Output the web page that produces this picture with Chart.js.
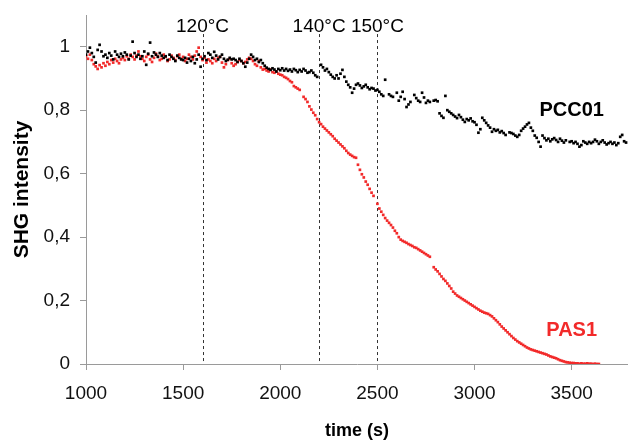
<!DOCTYPE html>
<html>
<head>
<meta charset="utf-8">
<script src="https://cdn.jsdelivr.net/npm/chart.js@4/dist/chart.umd.min.js"></script>
<style>
  html, body { margin: 0; padding: 0; background: #fff; }
  canvas { display: block; }
</style>
</head>
<body>
<canvas id="shg" width="628" height="442"></canvas>
<script>
// sampling of the measurement (s)
const sampleStart = 1000;
const sampleStep = 10;

// PCC01 (black), one value every 10 s from 1000 s
const pcc01 = [
  0.975, 0.985, 0.997, 0.980, 0.968, 0.950, 0.990, 1.006, 0.985, 0.970,
  0.975, 0.965, 0.980, 0.972, 0.960, 0.985, 0.975, 0.968, 0.978, 0.970,
  0.982, 0.975, 0.960, 0.972, 1.016, 0.980, 0.968, 0.975, 0.962, 0.970,
  0.985, 0.943, 0.978, 1.013, 0.970, 0.982, 0.975, 0.968, 0.980, 0.972,
  0.965, 0.970, 0.958, 0.975, 0.968, 0.962, 0.955, 0.972, 0.965, 0.960,
  0.958, 0.965, 0.950, 0.962, 0.955, 0.968, 0.948, 0.960, 0.975, 0.937,
  0.962, 0.970, 0.958, 0.980, 0.975, 0.965, 0.984, 0.972, 0.960, 0.968,
  0.975, 0.962, 0.955, 0.959, 0.965, 0.960, 0.962, 0.958, 0.952, 0.962,
  0.955, 0.948, 0.937, 0.950, 0.962, 0.975, 0.968, 0.958, 0.962, 0.952,
  0.958, 0.948, 0.940, 0.934, 0.930, 0.927, 0.932, 0.928, 0.922, 0.930,
  0.926, 0.932, 0.925, 0.930, 0.924, 0.928, 0.922, 0.930, 0.926, 0.920,
  0.927, 0.922, 0.930, 0.925, 0.918, 0.920, 0.925, 0.918, 0.910, 0.905,
  null,  0.943, 0.935, 0.925, 0.930, 0.920, 0.912, 0.905, 0.900, 0.910,
  0.900, 0.915, 0.927, 0.905, 0.890, 0.880, 0.872, 0.855, 0.868, 0.880,
  0.884, 0.878, 0.870, 0.875, 0.880, 0.872, 0.866, 0.870, 0.868, 0.862,
  0.864, 0.858, 0.850, 0.845, 0.896, null,  0.850, 0.845, 0.842, null,
  0.855, 0.830, 0.842, 0.858, 0.835, 0.810, 0.818, 0.826, null,  0.848,
  0.838, 0.830, 0.826, 0.855, 0.840, 0.823, 0.830, 0.826, null,  0.830,
  0.832, 0.828, 0.790, 0.782, 0.776, 0.845, 0.800, 0.795, 0.790, 0.785,
  0.780, 0.775, 0.785, 0.778, 0.770, 0.763, 0.772, 0.768, 0.774, 0.765,
  0.762, 0.754, 0.729, 0.740, 0.776, 0.768, 0.760, 0.752, 0.745, 0.732,
  0.740, 0.735, 0.738, 0.730, 0.734, 0.728, 0.722, null,  0.730, 0.728,
  0.725, 0.720, 0.716, 0.722, 0.735, 0.742, 0.748, 0.755, 0.760, 0.745,
  0.735, 0.720, 0.713, 0.700, 0.685, 0.720, 0.712, 0.705, 0.710, 0.702,
  0.708, 0.712, 0.706, 0.700, 0.710, 0.704, 0.698, 0.705, null,  0.700,
  0.702, 0.696, 0.700, 0.694, 0.685, 0.690, 0.702, 0.698, 0.694, 0.700,
  0.696, 0.700, 0.707, 0.702, 0.694, 0.700, 0.705, 0.698, 0.692, 0.696,
  0.700, 0.694, 0.698, 0.690, 0.696, 0.716, 0.722, 0.702, 0.698
];

// PAS1 (red), same sampling
const pas1 = [
  0.970, 0.962, 0.975, 0.958, 0.945, 0.938, 0.930, 0.942, 0.935, 0.948,
  0.940, 0.952, 0.945, 0.958, 0.950, 0.962, 0.955, 0.948, 0.960, 0.965,
  0.958, 0.970, 0.962, 0.975, 0.968, 0.960, 0.972, 0.985, 0.970, 0.962,
  0.955, 0.968, 0.975, 0.960, 0.952, 0.965, 0.978, 0.970, 0.958, 0.962,
  0.975, 0.968, 0.955, 0.960, 0.972, 0.965, 0.958, 0.970, 0.975, 0.962,
  0.968, 0.955, 0.962, 0.975, 0.968, 0.960, 0.972, 0.985, 0.997, 0.968,
  0.958, 0.965, 0.950, 0.960, 0.955, 0.948, 0.962, 0.955, 0.965, 0.968,
  0.950, 0.935, 0.945, 0.958, 0.962, 0.948, 0.940, 0.945, 0.952, 0.958,
  0.955, 0.948, 0.952, 0.960, 0.965, 0.962, 0.955, 0.945, 0.940, 0.955,
  0.935, 0.928, 0.930, 0.925, 0.922, 0.928, 0.920, 0.918, 0.922, 0.915,
  0.912, 0.910, 0.905, 0.902, 0.898, 0.892, 0.888, 0.876, 0.872, 0.868,
  0.864, null,  0.842, 0.835, 0.826, 0.812, 0.802, 0.792, 0.784, 0.772,
  0.762, 0.756, 0.748, 0.742, 0.736, 0.730, 0.724, 0.718, 0.710, 0.704,
  0.698, 0.692, 0.686, 0.680, 0.672, 0.665, 0.660, 0.656, 0.652, 0.650,
  0.628, 0.612, 0.598, 0.588, 0.575, 0.565, 0.552, 0.540, 0.530, null,
  0.505, 0.490, 0.480, 0.470, 0.460, 0.452, 0.445, 0.438, 0.430, 0.420,
  0.412, 0.400, 0.392, 0.388, 0.385, 0.382, 0.378, 0.375, 0.372, 0.368,
  0.366, 0.362, 0.358, 0.354, 0.350, 0.346, 0.342, 0.338, null,  0.305,
  0.298, 0.292, 0.284, 0.276, 0.268, 0.262, 0.254, 0.246, 0.238, 0.228,
  0.222, 0.216, 0.212, 0.208, 0.204, 0.200, 0.196, 0.192, 0.188, 0.184,
  0.180, 0.176, 0.172, 0.168, 0.165, 0.162, 0.160, 0.158, 0.154, 0.150,
  0.144, 0.138, 0.132, 0.125, 0.118, 0.112, 0.106, 0.100, 0.094, 0.088,
  0.082, 0.077, 0.072, 0.068, 0.064, 0.060, 0.056, 0.052, 0.049, 0.046,
  0.044, 0.042, 0.040, 0.038, 0.036, 0.034, 0.032, 0.030, 0.027, 0.024,
  0.022, 0.020, 0.018, 0.015, 0.012, 0.010, 0.008, 0.006, 0.005, 0.004,
  0.003, 0.003, 0.002, 0.002, 0.001, 0.002, 0.001, 0.001, 0.002, 0.001,
  0.001, 0.000, 0.001, 0.000, 0.000
];

// temperature steps (vertical dashed lines)
const tempTimes = [1600, 2200, 2500];
const tempLabels = ['120°C', '140°C', '150°C'];

// x ticks / y ticks
const xTicks = [1000, 1500, 2000, 2500, 3000, 3500];
const yTicks = [0, 0.2, 0.4, 0.6, 0.8, 1];

const toPoints = vals => vals.map((v, i) => ({ x: sampleStart + i * sampleStep, y: v }));

Chart.defaults.font.family = '"Liberation Sans", Arial, sans-serif';
Chart.defaults.color = '#000';

const axisGrey = '#9a9a9a';

const markers = {
  id: 'markers',
  beforeDatasetsDraw(chart) {
    const { ctx, chartArea, scales: { x, y } } = chart;
    ctx.save();
    ctx.strokeStyle = '#333';
    ctx.lineWidth = 1;
    ctx.setLineDash([3, 3]);
    tempTimes.forEach(t => {
      const px = Math.round(x.getPixelForValue(t)) + 0.5;
      ctx.beginPath();
      ctx.moveTo(px, y.getPixelForValue(1.04));
      ctx.lineTo(px, chartArea.bottom);
      ctx.stroke();
    });
    ctx.setLineDash([]);
    ctx.fillStyle = '#000';
    ctx.font = '19px "Liberation Sans", Arial, sans-serif';
    ctx.textAlign = 'center';
    ctx.textBaseline = 'alphabetic';
    tempTimes.forEach((t, i) => {
      ctx.fillText(tempLabels[i], x.getPixelForValue(t), chartArea.top + 17);
    });
    ctx.restore();
  },
  afterDatasetsDraw(chart) {
    const { ctx, scales: { x, y } } = chart;
    ctx.save();
    ctx.font = 'bold 20px "Liberation Sans", Arial, sans-serif';
    ctx.textAlign = 'center';
    ctx.textBaseline = 'middle';
    ctx.fillStyle = '#000';
    ctx.fillText('PCC01', x.getPixelForValue(3500), y.getPixelForValue(0.80));
    ctx.fillStyle = '#f22a2a';
    ctx.fillText('PAS1', x.getPixelForValue(3500), y.getPixelForValue(0.105));
    ctx.restore();
  }
};

new Chart(document.getElementById('shg'), {
  type: 'scatter',
  data: {
    datasets: [
      {
        label: 'PCC01',
        data: toPoints(pcc01),
        pointStyle: 'rect',
        pointRadius: 1.9,
        pointHoverRadius: 0,
        pointBorderWidth: 0,
        pointBackgroundColor: '#000',
        showLine: false
      },
      {
        label: 'PAS1',
        data: toPoints(pas1),
        pointStyle: 'rect',
        pointRadius: 1.9,
        pointHoverRadius: 0,
        pointBorderWidth: 0,
        pointBackgroundColor: '#f22a2a',
        showLine: false
      }
    ]
  },
  options: {
    responsive: false,
    animation: false,
    devicePixelRatio: 1,
    layout: { autoPadding: false, padding: { top: 15, right: 0, left: 0, bottom: 0 } },
    plugins: { legend: { display: false }, tooltip: { enabled: false } },
    scales: {
      x: {
        type: 'linear',
        min: 1000,
        max: 3790,
        afterBuildTicks: s => { s.ticks = xTicks.map(v => ({ value: v })); },
        afterFit: s => { s.height = 78; s.paddingLeft = 0; s.paddingRight = 0; },
        grid: { display: true, drawOnChartArea: false, drawTicks: true, tickLength: 6, color: axisGrey },
        border: { display: true, color: axisGrey, width: 1 },
        ticks: { autoSkip: false, maxRotation: 0, padding: 12, font: { size: 19 }, color: '#111',
                 callback: v => String(v) },
        title: { display: true, text: 'time (s)', font: { size: 18, weight: 'bold' }, padding: { top: 0, bottom: 0 } }
      },
      y: {
        min: 0,
        max: 1.1,
        afterBuildTicks: s => { s.ticks = yTicks.map(v => ({ value: v })); },
        afterFit: s => { s.width = 86; s.paddingTop = 0; s.paddingBottom = 0; },
        grid: { display: true, drawOnChartArea: false, drawTicks: true, tickLength: 6, color: axisGrey },
        border: { display: true, color: axisGrey, width: 1 },
        ticks: { padding: 10, font: { size: 19 }, color: '#111',
                 callback: v => (v === 0 ? '0' : v === 1 ? '1' : v.toFixed(1).replace('.', ',')) },
        title: { display: true, text: 'SHG intensity', font: { size: 21, weight: 'bold' }, padding: { top: 10, bottom: 0 } }
      }
    }
  },
  plugins: [markers]
});
</script>
</body>
</html>
